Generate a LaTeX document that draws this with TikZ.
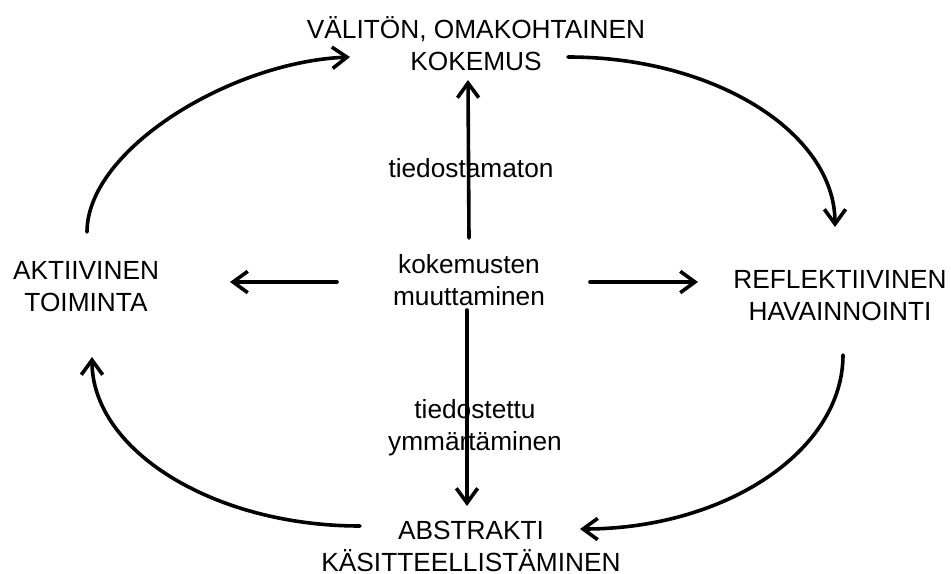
\documentclass[tikz,border=0pt]{standalone}
\usepackage{fontspec}
\setmainfont{Liberation Sans}
\usetikzlibrary{arrows.meta,positioning}

\begin{document}
\begin{tikzpicture}[x=0.75pt,y=-0.75pt]
\tikzstyle{stage}=[align=center,inner sep=0pt,outer sep=0pt,
font=\fontsize{19.7pt}{24pt}\selectfont]
\tikzstyle{cyc}=[line width=2.7pt,line cap=round,
-{Straight Barb[length=11pt,width=16pt,line width=2.7pt]}]
\useasboundingbox (0,0) rectangle (951,574);

\node[stage] at (476,44) (top) {VÄLITÖN, OMAKOHTAINEN\\KOKEMUS};
\node[stage] at (840,296) (refl) {REFLEKTIIVINEN\\HAVAINNOINTI};
\node[stage] at (471,546) (abst) {ABSTRAKTI\\KÄSITTEELLISTÄMINEN};
\node[stage] at (86,287) (akt) {AKTIIVINEN\\TOIMINTA};
\node[stage] at (469,280) (mid) {kokemusten\\muuttaminen};

% inner arrows
\draw[cyc] ([shift={(0,-42)}]mid.center) -- ([shift={(-8,36)}]top.center);
\draw[cyc] ([shift={(-2,30)}]mid.center) -- ([shift={(-4,-40)}]abst.center);
\draw[cyc] ([shift={(-132,2)}]mid.center) -- ([shift={(144,-5)}]akt.center);
\draw[cyc] ([shift={(121,2)}]mid.center) -- ([shift={(-142,-14)}]refl.center);

\node[stage] at (471,168) (unaware) {tiedostamaton};
\node[stage] at (475,428) (aware) {tiedostettu\\ymmärtäminen};

% outer cycle
\draw[cyc] ([shift={(92,13)}]top.center) .. controls +(147,0) and +(0,-94) .. ([shift={(-5,-69)}]refl.center);
\draw[cyc] ([shift={(3,59)}]refl.center) .. controls +(0,96) and +(145,0) .. ([shift={(109,-17)}]abst.center);
\draw[cyc] ([shift={(-111,-20)}]abst.center) .. controls +(-147,0) and +(0,93) .. ([shift={(6,70)}]akt.center);
\draw[cyc] ([shift={(1,-55)}]akt.center) .. controls +(0,-82) and +(-120,5) .. ([shift={(-126,13)}]top.center);

\end{tikzpicture}
\end{document}
